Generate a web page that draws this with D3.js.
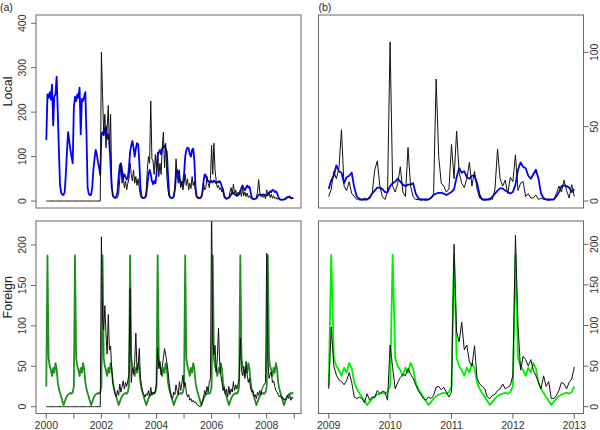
<!DOCTYPE html>
<html>
<head>
<meta charset="utf-8">
<script src="https://cdn.jsdelivr.net/npm/d3@7"></script>
<style>
  html, body { margin: 0; padding: 0; background: #fff; }
  svg { display: block; font-family: "Liberation Sans", Arial, sans-serif; }
</style>
</head>
<body>
<svg id="chart" width="600" height="430"></svg>
<script>
// ── data: semi-monthly values (24 per year) ──────────────────
const stepsPerYear = 24;

// (a) 2000–2008, local cases: fitted (blue) and observed (black)
const localFitA = [
  137,240,232,245,228,262,170,235,240,280,200,110,35,18,14,14,20,60,110,155,135,115,100,85,
  210,235,225,240,232,255,150,230,225,235,245,150,30,16,13,14,30,70,95,115,105,88,75,58,
  150,155,148,162,168,140,150,135,80,30,12,8,8,10,20,55,80,85,70,50,60,55,48,52,
  75,110,125,135,120,100,118,130,128,90,30,10,7,7,8,12,35,60,70,60,45,38,45,40,
  60,100,110,115,105,118,122,125,118,110,60,15,8,7,7,10,25,55,70,65,50,40,35,38,
  60,100,115,120,118,105,100,115,118,90,30,10,8,7,7,9,20,45,60,58,48,45,44,42,
  45,42,46,44,40,43,42,45,40,32,25,12,7,6,6,8,10,15,20,18,15,14,12,13,
  15,22,30,35,28,24,30,35,30,32,20,8,5,4,5,6,10,14,15,14,12,15,14,13,
  12,15,18,22,20,25,24,20,22,18,10,5,3,3,3,3,4,6,8,9,8,7,6,8
];
const localObsA = [
  0,0,0,0,0,0,0,0,0,0,0,0,0,0,0,0,0,0,0,0,0,0,0,0,
  0,0,0,0,0,0,0,0,0,0,0,0,0,0,0,0,0,0,0,0,0,0,0,0,
  335,240,150,195,120,165,215,110,195,40,12,7,6,6,8,15,50,80,40,55,30,45,25,40,
  50,85,60,45,70,40,55,35,50,30,12,7,6,7,8,20,70,100,85,225,95,90,60,105,
  70,110,55,85,60,120,155,75,130,55,25,10,7,6,7,12,30,95,60,40,70,30,45,25,
  40,60,35,50,25,40,28,55,35,45,20,8,6,5,6,8,15,40,25,30,55,40,30,50,
  125,60,130,70,45,30,35,25,30,20,25,8,5,4,5,6,20,30,15,38,15,25,10,20,
  15,25,10,28,12,20,10,18,8,12,6,5,4,3,4,8,20,48,20,10,15,8,12,5,
  25,12,20,8,15,6,12,5,8,4,6,3,3,2,3,4,6,8,10,8,12,6,8,5
];

// foreign fit repeats the same seasonal profile every year
const foreignSeasonal = [25,187,60,50,45,38,48,42,54,47,30,22,17,12,7,2,6,10,13,15,16,17,16,18];
const foreignObsA = [
  0,0,0,0,0,0,0,0,0,0,0,0,0,0,0,0,0,0,0,0,0,0,0,0,
  0,0,0,0,0,0,0,0,0,0,0,0,0,0,0,0,0,0,0,0,0,0,0,0,
  210,110,95,125,90,65,114,70,75,45,30,22,15,12,20,14,28,18,25,32,22,30,25,32,
  40,146,30,48,40,55,91,45,50,72,35,25,18,15,12,16,14,20,12,24,14,18,16,20,
  30,72,47,56,39,50,60,72,64,55,45,30,20,12,10,18,15,27,20,15,31,20,28,39,
  25,30,18,12,15,8,10,6,8,5,6,3,2,1,0,1,5,12,20,15,25,18,30,35,
  250,80,64,76,43,60,97,56,39,30,20,24,15,22,12,25,15,22,18,31,20,27,22,28,
  35,85,45,38,50,35,56,40,30,35,22,18,20,12,15,10,18,14,20,15,22,25,28,30,
  190,60,35,40,43,30,32,25,20,18,15,12,14,10,12,8,10,9,14,10,15,8,12,10
];

// (b) 2009–2013
const localFitB = [
  8,14,17,24,20,19,12,16,17,19,9,3,1,1,1,1,2,5,7,9,9,8,6,6,
  10,12,13,15,13,11,10,11,11,12,5,2,1,1,1,1,2,4,5,5.5,5.5,5,4,5,
  6,8,16,22,19,20,16,15,17,17,12,4,1,1,1,1,3,5,7,8.5,8.5,7,6,5,
  6,11,21,26,23,22,17,15,18,21,15,5,2,1,1,1,1,3,6,10,10.5,10,9,6,
  8
];
const localObsB = [
  3,8,20,15,22,48,10,7,13,5,3,1,2,0.5,2,1,3,5,21,27,10,3,1,6,
  107,10,6,12,23,6,3,36,10,3,1,1,0.5,1,0.5,1,2,5,82,30,12,10,6,8,
  38,15,47,19,12,9,15,26,10,20,8,2,1,0.5,1,2,1,8,35,15,10,14,5,16,
  13,31,7,12,13,3,5,2,2,4,1,2,1,1,0.5,1,1,5,10,6,14,7,2,11,
  3
];
const foreignObsB = [
  22,98,50,39,33,31,27,32,42,30,12,10,12,10,5,16,8,12,11,20,16,19,18,8,
  76,48,22,30,36,40,38,47,40,35,27,20,15,10,8,12,10,14,24,25,21,24,18,12,
  18,200,92,80,104,70,76,55,50,75,35,28,25,22,12,10,14,15,20,22,28,22,24,26,
  39,211,100,45,62,58,50,58,45,38,30,22,38,25,31,10,10,14,20,30,28,22,30,34,
  49
];

const foreignFitA = d3.range(9).flatMap(() => foreignSeasonal);
const foreignFitB = d3.range(4).flatMap(() => foreignSeasonal).concat([foreignSeasonal[0]]);

// axis ticks
const yTicksLocalA = [0, 100, 200, 300, 400];
const yTicksLocalB = [0, 50, 100];
const yTicksForeign = [0, 50, 100, 150, 200];
const xTicksA = [2000, 2001, 2002, 2003, 2004, 2005, 2006, 2007, 2008, 2009];
const xLabelsA = [2000, 2002, 2004, 2006, 2008];
const xTicksB = [2009, 2010, 2011, 2012, 2013];

// ── layout ───────────────────────────────────────────────────
const svg = d3.select('#chart');
const BOX = '#666', TXT = '#333';

const toPoints = (start, values) => values.map((v, i) => ({ t: start + i / stepsPerYear, v }));

const panels = [
  { id: 'tl', box: [36, 15, 301, 208], xDom: [1999.626, 2009.245], yDom: [-15.75, 418.6],
    side: 'left', yTicks: yTicksLocalA, title: 'Local', tag: '(a)',
    lines: [
      { pts: toPoints(2000, localFitA), color: '#0000ff', w: 1.8 },
      { pts: toPoints(2000, localObsA), color: '#111', w: 1 }
    ] },
  { id: 'tr', box: [318.5, 15, 583.5, 208], xDom: [2008.834, 2013.15], yDom: [-4.71, 125.1],
    side: 'right', yTicks: yTicksLocalB, tag: '(b)',
    lines: [
      { pts: toPoints(2009, localFitB), color: '#0000ff', w: 1.8 },
      { pts: toPoints(2009, localObsB), color: '#111', w: 1 }
    ] },
  { id: 'bl', box: [36, 221, 301, 413.5], xDom: [1999.626, 2009.245], yDom: [-8.41, 229.7],
    side: 'left', yTicks: yTicksForeign, title: 'Foreign',
    xTicks: xTicksA, xLabels: xLabelsA,
    lines: [
      { pts: toPoints(2000, foreignFitA), color: '#1f8f1f', w: 1.8 },
      { pts: toPoints(2000, foreignObsA), color: '#111', w: 1 }
    ] },
  { id: 'br', box: [318.5, 221, 583.5, 413.5], xDom: [2008.834, 2013.15], yDom: [-8.37, 228.7],
    side: 'right', yTicks: yTicksForeign,
    xTicks: xTicksB, xLabels: xTicksB,
    lines: [
      { pts: toPoints(2009, foreignFitB), color: '#00ee00', w: 1.8 },
      { pts: toPoints(2009, foreignObsB), color: '#111', w: 1 }
    ] }
];

panels.forEach(p => {
  const [x0, y0, x1, y1] = p.box;
  const x = d3.scaleLinear().domain(p.xDom).range([x0, x1]);
  const y = d3.scaleLinear().domain(p.yDom).range([y1, y0]);

  svg.append('clipPath').attr('id', 'clip-' + p.id)
    .append('rect').attr('x', x0).attr('y', y0).attr('width', x1 - x0).attr('height', y1 - y0);

  const g = svg.append('g').attr('clip-path', `url(#clip-${p.id})`);
  const line = d3.line().x(d => x(d.t)).y(d => y(d.v));
  p.lines.forEach(l => {
    g.append('path').datum(l.pts)
      .attr('d', line)
      .attr('fill', 'none')
      .attr('stroke', l.color)
      .attr('stroke-width', l.w)
      .attr('stroke-linejoin', 'round');
  });

  svg.append('rect')
    .attr('x', x0).attr('y', y0).attr('width', x1 - x0).attr('height', y1 - y0)
    .attr('fill', 'none').attr('stroke', BOX).attr('stroke-width', 1);

  // y axis (R style: ticks outside the box, rotated labels)
  const left = p.side === 'left';
  const edge = left ? x0 : x1;
  const dir = left ? -1 : 1;
  p.yTicks.forEach(v => {
    svg.append('line')
      .attr('x1', edge).attr('x2', edge + dir * 5)
      .attr('y1', y(v)).attr('y2', y(v))
      .attr('stroke', BOX);
    const lx = left ? edge - 10 : edge + 14.5;
    svg.append('text')
      .attr('transform', `translate(${lx},${y(v)}) rotate(-90)`)
      .attr('text-anchor', 'middle')
      .attr('font-size', 10.5)
      .attr('fill', TXT)
      .text(v);
  });

  // x axis on bottom panels only
  if (p.xTicks) {
    p.xTicks.forEach(t => {
      svg.append('line')
        .attr('x1', x(t)).attr('x2', x(t))
        .attr('y1', y1).attr('y2', y1 + 5)
        .attr('stroke', BOX);
    });
    p.xLabels.forEach(t => {
      svg.append('text')
        .attr('x', x(t)).attr('y', 429)
        .attr('text-anchor', 'middle')
        .attr('font-size', 10.5)
        .attr('fill', TXT)
        .text(t);
    });
  }

  if (p.title) {
    svg.append('text')
      .attr('transform', `translate(11.5,${(y0 + y1) / 2 - 20}) rotate(-90)`)
      .attr('text-anchor', 'middle')
      .attr('font-size', 12.5)
      .attr('fill', '#222')
      .text(p.title);
  }
  if (p.tag) {
    svg.append('text')
      .attr('x', left ? 0 : x0).attr('y', 10.5)
      .attr('font-size', 10.5)
      .attr('fill', '#222')
      .text(p.tag);
  }
});
</script>
</body>
</html>
